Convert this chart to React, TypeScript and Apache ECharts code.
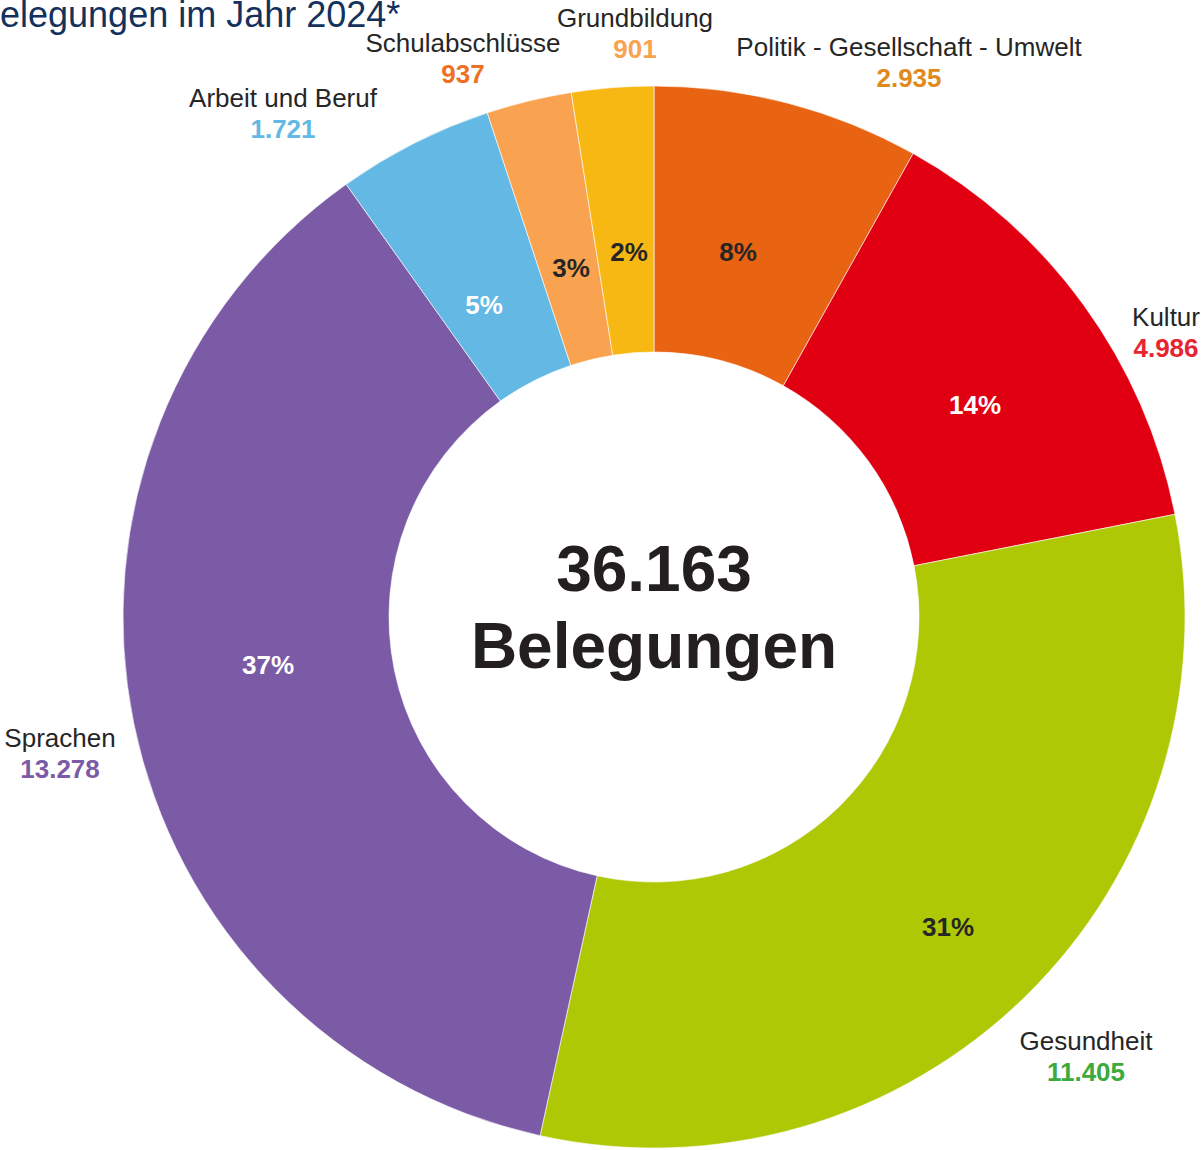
import React, { useEffect, useRef } from "react";
import * as echarts from "echarts";

const categories = [
  "Politik - Gesellschaft - Umwelt",
  "Kultur",
  "Gesundheit",
  "Sprachen",
  "Arbeit und Beruf",
  "Schulabschlüsse",
  "Grundbildung",
];
const values = [2935, 4986, 11405, 13278, 1721, 937, 901];
const sliceColors = ["#E86412", "#E10012", "#AFC805", "#7B5BA6", "#64B8E4", "#F9A350", "#F7B814"];
const valueColors = ["#E08A1E", "#E82430", "#3DAA3D", "#7B5BA6", "#64B8E4", "#EE7024", "#F9A350"];
const pctColors = ["#262626", "#FFFFFF", "#262626", "#FFFFFF", "#FFFFFF", "#262626", "#262626"];
// outside label block centres (layout only)
const labelAnchors = [
  [909, 62],
  [1166, 332],
  [1086, 1056],
  [60, 753],
  [283, 113],
  [463, 58],
  [635, 33],
];
// percentage label centres (layout only)
const pctAnchors = [
  [738, 252],
  [975, 405],
  [948, 927],
  [268, 665],
  [484, 305],
  [571, 268],
  [629, 252],
];
const titleText = "Belegungen im Jahr 2024*";
const centerCaption = "Belegungen";

const FONT = "'Liberation Sans', Arial, Helvetica, sans-serif";
const fmt = (v: number) => String(v).replace(/\B(?=(\d{3})+(?!\d))/g, ".");

export default function App() {
  const ref = useRef<HTMLDivElement>(null);
  useEffect(() => {
    if (!ref.current) return;
    const chart = echarts.init(ref.current, null, { renderer: "svg" });
    const total = values.reduce((a, b) => a + b, 0);
    const center = [654, 617];
    const radius = [265, 531];

    const sliceData = categories.map((name, i) => ({
      name,
      value: values[i],
      itemStyle: { color: sliceColors[i] },
      label: { color: pctColors[i] },
    }));
    const labelData = categories.map((name, i) => ({
      name,
      value: values[i],
      label: {
        rich: {
          n: { fontFamily: FONT, fontSize: 26, color: "#262626", lineHeight: 31, align: "center" },
          v: { fontFamily: FONT, fontSize: 26, fontWeight: "bold", color: valueColors[i], lineHeight: 31, align: "center" },
        },
      },
    }));

    chart.setOption({
      animation: false,
      backgroundColor: "#FFFFFF",
      graphic: [
        {
          type: "text",
          x: -24,
          y: 14,
          style: {
            text: titleText,
            fontFamily: FONT,
            fontSize: 36,
            fill: "#13315C",
            textAlign: "left",
            textVerticalAlign: "middle",
          },
        },
        {
          type: "text",
          x: center[0],
          y: 569,
          style: {
            text: fmt(total),
            fontFamily: FONT,
            fontSize: 64,
            fontWeight: "bold",
            fill: "#231F20",
            textAlign: "center",
            textVerticalAlign: "middle",
          },
        },
        {
          type: "text",
          x: center[0],
          y: 646,
          style: {
            text: centerCaption,
            fontFamily: FONT,
            fontSize: 64,
            fontWeight: "bold",
            fill: "#231F20",
            textAlign: "center",
            textVerticalAlign: "middle",
          },
        },
      ],
      series: [
        {
          type: "pie",
          center,
          radius,
          startAngle: 90,
          clockwise: true,
          avoidLabelOverlap: false,
          percentPrecision: 0,
          itemStyle: { borderColor: "#FFFFFF", borderWidth: 0.6 },
          emphasis: { disabled: true },
          label: {
            show: true,
            position: "inside",
            formatter: "{d}%",
            fontFamily: FONT,
            fontSize: 26,
            fontWeight: "bold",
          },
          labelLine: { show: false },
          labelLayout: (params: any) => {
            const a = pctAnchors[params.dataIndex];
            return { x: a[0], y: a[1], align: "center", verticalAlign: "middle" };
          },
          data: sliceData,
          z: 2,
        },
        {
          type: "pie",
          center,
          radius,
          startAngle: 90,
          clockwise: true,
          silent: true,
          avoidLabelOverlap: false,
          itemStyle: { color: "rgba(0,0,0,0)", borderWidth: 0 },
          emphasis: { disabled: true },
          label: {
            show: true,
            position: "outside",
            formatter: (p: any) => `{n|${p.name}}\n{v|${fmt(p.value)}}`,
          },
          labelLine: { show: false },
          labelLayout: (params: any) => {
            const a = labelAnchors[params.dataIndex];
            return { x: a[0], y: a[1], align: "center", verticalAlign: "middle" };
          },
          data: labelData,
          z: 3,
        },
      ],
    });
    return () => chart.dispose();
  }, []);
  return (
    <div
      ref={ref}
      style={{ position: "absolute", left: 0, top: 0, width: 1201, height: 1150 }}
    />
  );
}
